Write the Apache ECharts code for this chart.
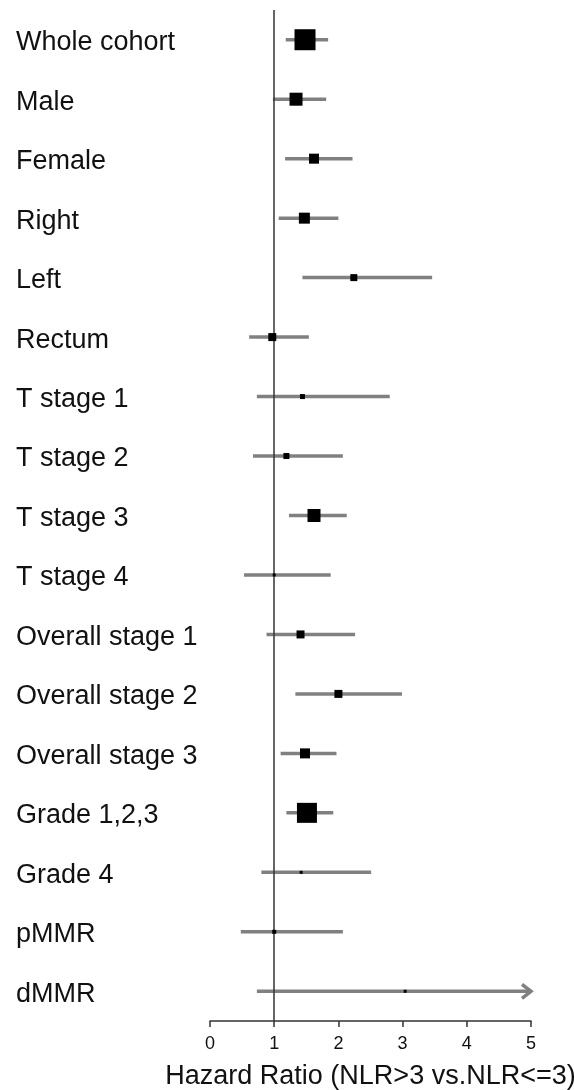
<!DOCTYPE html>
<html><head><meta charset="utf-8">
<script src="https://cdn.jsdelivr.net/npm/echarts@6/dist/echarts.min.js"></script>
<style>html,body{margin:0;padding:0;background:#fff}#c{width:574px;height:1090px}</style>
</head><body><div id="c"></div>
<script>
const categories = ['Whole cohort','Male','Female','Right','Left','Rectum','T stage 1','T stage 2','T stage 3','T stage 4','Overall stage 1','Overall stage 2','Overall stage 3','Grade 1,2,3','Grade 4','pMMR','dMMR'];
const hazardRatio = [1.48,1.34,1.62,1.47,2.24,0.97,1.44,1.19,1.62,1.00,1.41,2.00,1.48,1.51,1.42,1.00,3.04];
const lowerCI =     [1.18,0.98,1.17,1.07,1.44,0.61,0.73,0.67,1.23,0.53,0.88,1.33,1.10,1.19,0.80,0.48,0.73];
const upperCI =     [1.84,1.81,2.22,2.00,3.46,1.54,2.80,2.07,2.13,1.88,2.26,2.99,1.97,1.92,2.51,2.07,5.60];
const weights =     [21,13,10,11,7,8,5,6,13,3,8,8,10,20,3,4,3];
const xTicks = [0,1,2,3,4,5];
const xTitle = 'Hazard Ratio (NLR>3 vs.NLR<=3)';

const xMin = xTicks[0], xMax = xTicks[xTicks.length-1];
const FONT = '"Liberation Sans", Arial, Helvetica, sans-serif';
const chart = echarts.init(document.getElementById('c'), null, {renderer:'canvas'});

const ciData = categories.map((c,i)=>[i, lowerCI[i], upperCI[i]]);
const ptData = categories.map((c,i)=>[hazardRatio[i], i, weights[i]]);

chart.setOption({
  animation:false,
  backgroundColor:'#fff',
  grid:{left:210, right:43, top:10, bottom:69, containLabel:false, outerBoundsMode:'none'},
  xAxis:{
    type:'value', min:xMin, max:xMax, interval:1,
    splitLine:{show:false},
    axisLine:{show:true, lineStyle:{color:'#333', width:1.5}},
    axisTick:{show:true, length:6, lineStyle:{color:'#333', width:1.5}},
    axisLabel:{fontSize:18, color:'#111', margin:14, fontFamily:FONT},
    name:xTitle, nameLocation:'middle', nameGap:42,
    nameTextStyle:{fontSize:27, color:'#111', fontFamily:FONT}
  },
  yAxis:{
    type:'category', data:categories, inverse:true,
    axisLine:{show:false}, axisTick:{show:false}, splitLine:{show:false},
    axisLabel:{align:'left', margin:194, fontSize:27, color:'#111', fontFamily:FONT,
      formatter:function(v){ return '{a|' + v + '}'; },
      rich:{a:{fontSize:27, color:'#111', fontFamily:FONT, padding:[6,0,0,0]}}
    }
  },
  series:[
    {
      type:'custom',
      data:ciData,
      encode:{x:[1,2], y:0},
      z:2,
      renderItem:function(params, api){
        const yi = api.value(0), lo = api.value(1), hi = api.value(2);
        const hiC = Math.min(hi, xMax), loC = Math.max(lo, xMin);
        const p1 = api.coord([loC, yi]), p2 = api.coord([hiC, yi]);
        const children = [{type:'line', shape:{x1:p1[0], y1:p1[1], x2:p2[0], y2:p2[1]},
          style:{stroke:'#808080', lineWidth:3.5}}];
        if (hi > xMax) {
          children.push({type:'polyline',
            shape:{points:[[p2[0]-9,p2[1]-7],[p2[0],p2[1]],[p2[0]-9,p2[1]+7]]},
            style:{stroke:'#808080', lineWidth:3.5, fill:null}});
        }
        return {type:'group', children:children};
      }
    },
    {
      type:'scatter',
      data:ptData,
      symbol:'rect',
      symbolSize:function(v){ return v[2]; },
      itemStyle:{color:'#000', opacity:1},
      z:5,
      markLine:{
        silent:true, symbol:'none', label:{show:false},
        lineStyle:{color:'#333', width:1.5, type:'solid'},
        data:[{xAxis:1}]
      }
    }
  ]
});
</script></body></html>
